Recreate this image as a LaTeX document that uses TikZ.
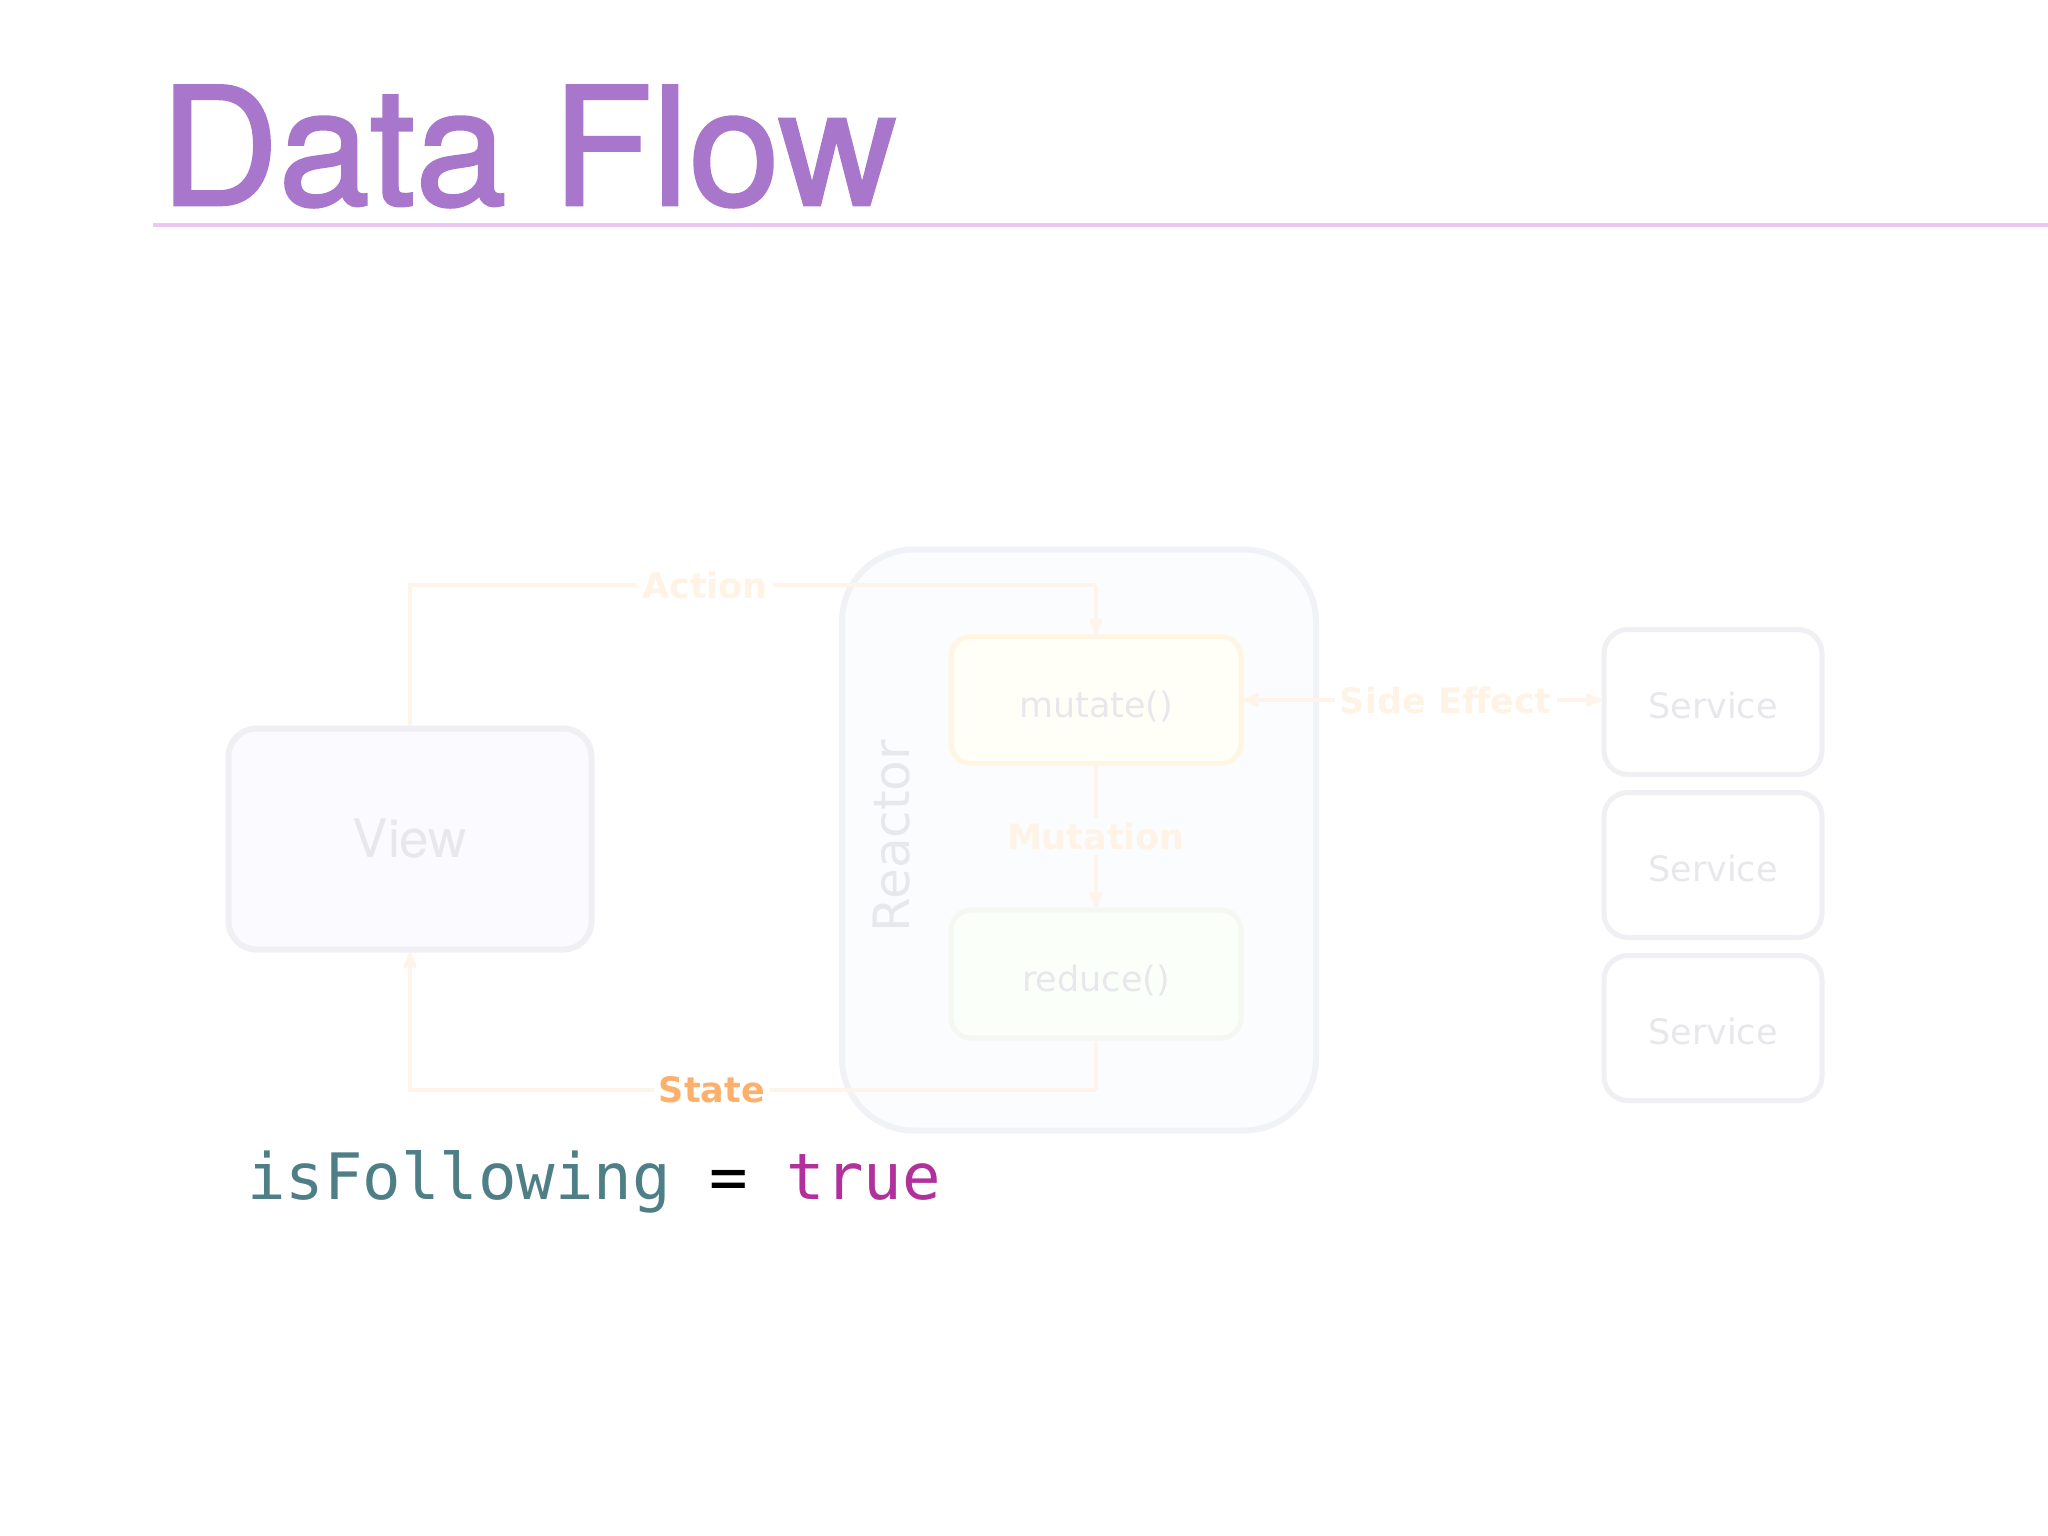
\documentclass[tikz,border=0pt]{standalone}
\usepackage{fontspec}
\setmainfont{DejaVu Sans}
\setmonofont{DejaVu Sans Mono}
\newfontfamily\heros{TeX Gyre Heros}
\newfontfamily\herosmed[FakeBold=1.6]{TeX Gyre Heros}
\usepackage{tikz}
\usetikzlibrary{arrows}
\usetikzlibrary{calc}

\definecolor{titlepurple}{HTML}{A877CC}
\definecolor{rulepink}{HTML}{EDC6F6}
\definecolor{flowline}{HTML}{FFF4E9}
\definecolor{flowtext}{HTML}{FFF3E6}
\definecolor{stateorange}{HTML}{FCB06C}
\definecolor{boxgray}{HTML}{F0F0F4}
\definecolor{boxtext}{HTML}{E8E8EC}
\definecolor{reactorfill}{HTML}{FAFCFE}
\definecolor{reactorline}{HTML}{F0F2F6}
\definecolor{mutateline}{HTML}{FFF5E2}
\definecolor{reduceline}{HTML}{F5F7F3}
\definecolor{codeteal}{HTML}{4F7F86}
\definecolor{codemagenta}{HTML}{B2309C}

\tikzset{
  box/.style={draw=boxgray, line width=5pt, rounded corners=24pt, inner sep=0pt,
    text height=32pt, text depth=0pt, font=\fontsize{35}{40}\selectfont, text=boxtext},
  flow/.style={draw=flowline, line width=4pt, >=stealth'},
  lbl/.style={font=\bfseries\fontsize{35}{40}\selectfont, text=flowtext, fill=white, inner sep=5pt},
}

\begin{document}
\begin{tikzpicture}[x=1pt, y=-1pt]
\useasboundingbox[fill=white] (0,0) rectangle (2048,1536);
% title and rule
\node[anchor=base west, inner sep=0, text=titlepurple, font=\herosmed\fontsize{164}{170}\selectfont] (title) at (160,205) {Data Flow};
\draw[rulepink, line width=4pt] (153,225) -- (2048,225);
% reactor
\node[draw=reactorline, fill=reactorfill, line width=6pt, rounded corners=72pt, minimum width=474pt, minimum height=581pt] (reactor) at (1079,840) {};
\node[rotate=90, text=boxtext, font=\fontsize{50}{56}\selectfont] (reactorlbl) at (892,836) {Reactor};
\node[box, draw=mutateline, fill=white!97!yellow, minimum width=290pt, minimum height=127pt, rounded corners=20pt, text height=34pt] (mutate) at (1096,700) {mutate()};
\node[box, draw=reduceline, fill=white!98!green, minimum width=290pt, minimum height=128pt, rounded corners=20pt, text height=34pt] (reduce) at (1096,974) {reduce()};
% view
\node[box, fill=blue!2!white, line width=6pt, minimum width=363pt, minimum height=221pt, rounded corners=28pt, text height=37pt, font=\heros\fontsize{53}{60}\selectfont] (view) at (410,839) {View};
% services
\foreach \name/\y in {svcA/702, svcB/865, svcC/1028} {
  \node[box, fill=white, minimum width=218pt, minimum height=145pt] (\name) at (1713,\y) {Service};
}
% connectors
\coordinate (acorner) at (1096,585);
\coordinate (scorner) at (1096,1090);
\draw[flow] (view.north) |- node[lbl, pos=0.715] {Action} (acorner);
\draw[flow, ->] (acorner) -- (mutate.north);
\draw[flow, ->] (mutate.south) -- node[lbl, fill=reactorfill] {Mutation} (reduce.north);
\draw[flow, <->] (mutate.east) -- node[lbl, pos=0.565] {Side Effect} (mutate.east -| svcA.west);
\draw[flow] (reduce.south) -- (scorner);
\draw[flow, ->] (scorner) -| node[lbl, pos=0.28, text=stateorange] {State} (view.south);
% code
\node[anchor=base west, inner sep=0, font=\ttfamily\fontsize{64}{70}\selectfont] (code) at (247,1199)
  {\textcolor{codeteal}{isFollowing} = \textcolor{codemagenta}{true}};
\end{tikzpicture}
\end{document}
